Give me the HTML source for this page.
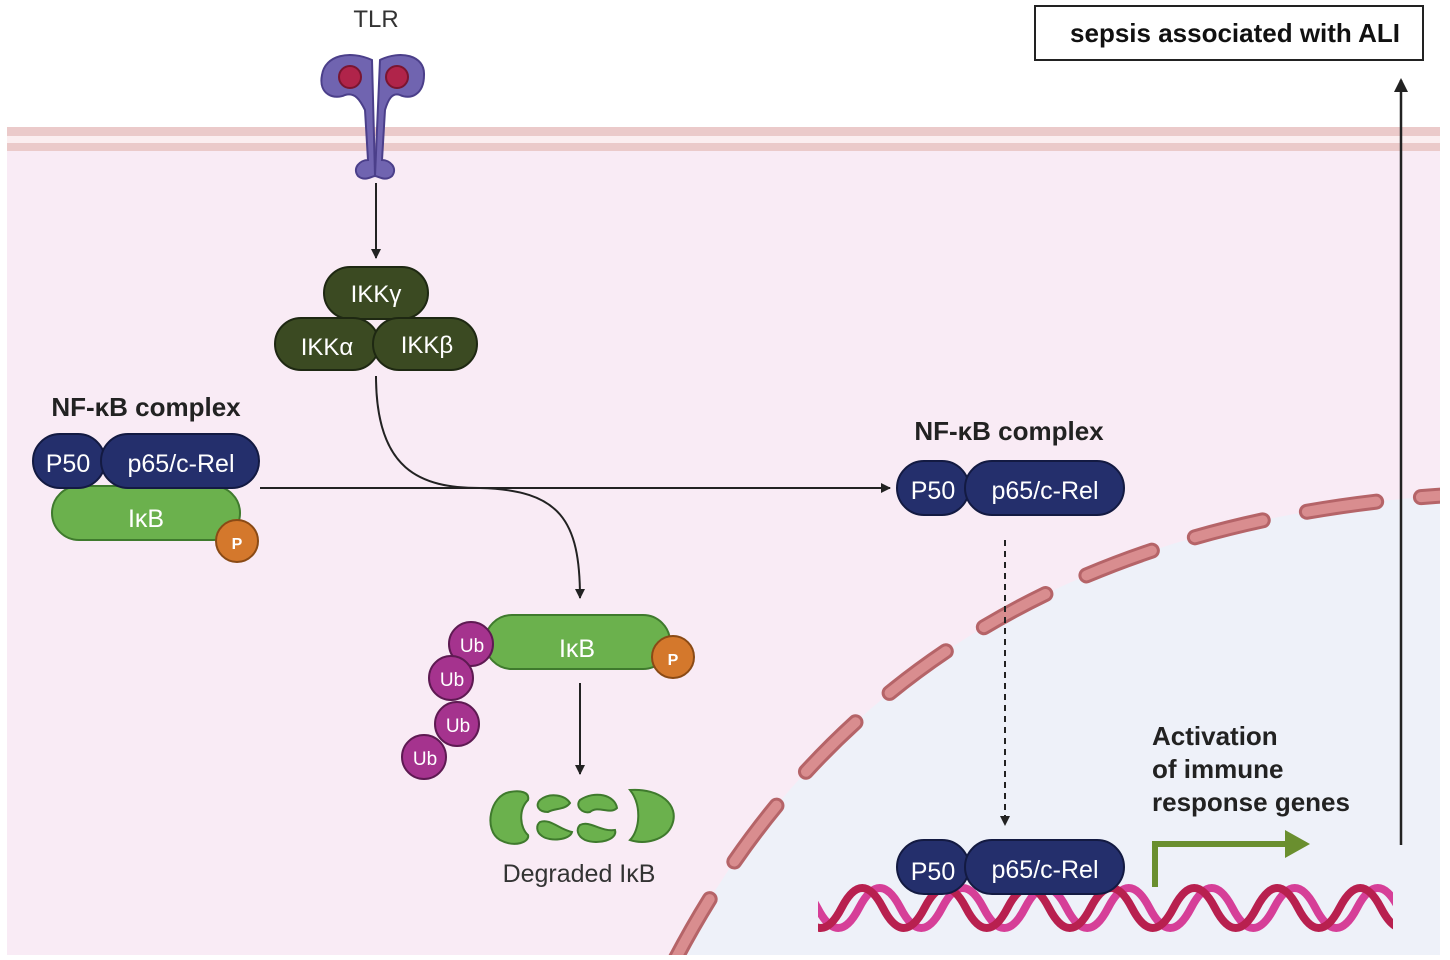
<!DOCTYPE html>
<html><head><meta charset="utf-8"><style>
html,body{margin:0;padding:0;background:#fff;}
svg{display:block;}
text{font-family:"Liberation Sans",sans-serif;}
</style></head><body>
<svg width="1450" height="960" viewBox="0 0 1450 960" xmlns="http://www.w3.org/2000/svg">
<defs>
<marker id="ah" markerWidth="10" markerHeight="10" refX="9" refY="5" orient="auto" markerUnits="userSpaceOnUse" viewBox="0 0 10 10"><path d="M0,0 L10,5 L0,10 Z" fill="#222"/></marker>
<marker id="ah2" markerWidth="14" markerHeight="14" refX="12" refY="7" orient="auto" markerUnits="userSpaceOnUse" viewBox="0 0 14 14"><path d="M0,0 L14,7 L0,14 Z" fill="#222"/></marker>
<clipPath id="dc"><rect x="818" y="860" width="575" height="90"/></clipPath>
</defs>
<rect width="1450" height="960" fill="#fff"/>
<rect x="7" y="150" width="1433" height="805" fill="#f9ebf5"/>
<rect x="7" y="136" width="1433" height="7" fill="#fbeef0"/>
<rect x="7" y="127" width="1433" height="9" fill="#ebcaca"/>
<rect x="7" y="143" width="1433" height="8" fill="#ebcaca"/>
<path d="M675 960 Q900 530 1450 495 L1450 955 L675 955 Z" fill="#eef1f9"/>
<path d="M675 960 Q900 530 1450 495" fill="none" stroke="#b56468" stroke-width="16" stroke-dasharray="70 45" stroke-linecap="round"/>
<path d="M675 960 Q900 530 1450 495" fill="none" stroke="#d98d8f" stroke-width="10" stroke-dasharray="70 45" stroke-linecap="round"/>
<rect x="0" y="955" width="1450" height="5" fill="#fff"/>
<rect x="1440" y="0" width="10" height="960" fill="#fff"/>
<text x="376" y="27" font-size="24" fill="#333" text-anchor="middle">TLR</text>
<g fill="#7064b0" stroke="#4b3f8a" stroke-width="2">
<path d="M372 60 C350 50 325 55 322 75 C318 95 335 100 345 95 C355 92 360 100 365 110 L368 160 C360 160 352 168 358 176 C365 182 372 176 375 176 Z"/>
<path d="M380 60 C400 50 425 55 424 75 C424 95 410 100 400 95 C392 92 388 100 385 110 L382 160 C390 160 398 168 392 176 C385 182 378 176 375 176 Z"/>
</g>
<circle cx="350" cy="77" r="11" fill="#b0244a" stroke="#7a1530" stroke-width="2"/>
<circle cx="397" cy="77" r="11" fill="#b0244a" stroke="#7a1530" stroke-width="2"/>
<line x1="376" y1="183" x2="376" y2="258" stroke="#222" stroke-width="2" marker-end="url(#ah)"/>
<g stroke="#1e2812" stroke-width="2" fill="#3b4a22">
<rect x="324" y="267" width="104" height="52" rx="26"/>
<rect x="275" y="318" width="104" height="52" rx="26"/>
<rect x="373" y="318" width="104" height="52" rx="26"/>
</g>
<g fill="#fff" font-size="24" text-anchor="middle">
<text x="376" y="302">IKKγ</text>
<text x="327" y="355">IKKα</text>
<text x="427" y="353">IKKβ</text>
</g>
<path d="M376 376 C376 470 420 488 480 488 C560 490 580 520 580 598" fill="none" stroke="#222" stroke-width="2" marker-end="url(#ah)"/>
<line x1="260" y1="488" x2="890" y2="488" stroke="#222" stroke-width="2" marker-end="url(#ah)"/>
<text x="146" y="416" font-size="26" font-weight="bold" fill="#222" text-anchor="middle">NF-κB complex</text>
<rect x="52" y="486" width="188" height="54" rx="27" fill="#6bb14d" stroke="#3f7a2d" stroke-width="2"/>
<text x="146" y="527" font-size="25" fill="#fff" text-anchor="middle">IκB</text>
<circle cx="237" cy="541" r="21" fill="#d4782c" stroke="#8a4a15" stroke-width="2"/>
<text x="237" y="549" font-size="16" font-weight="bold" fill="#fff" text-anchor="middle">P</text>
<rect x="33" y="434" width="72" height="54" rx="27" fill="#242f6c" stroke="#131a42" stroke-width="2"/>
<rect x="101" y="434" width="158" height="54" rx="27" fill="#242f6c" stroke="#131a42" stroke-width="2"/>
<g fill="#fff" font-size="25" text-anchor="middle"><text x="68" y="472">P50</text><text x="181" y="472">p65/c-Rel</text></g>
<text x="1009" y="440" font-size="26" font-weight="bold" fill="#222" text-anchor="middle">NF-κB complex</text>
<rect x="897" y="461" width="72" height="54" rx="27" fill="#242f6c" stroke="#131a42" stroke-width="2"/>
<rect x="965" y="461" width="159" height="54" rx="27" fill="#242f6c" stroke="#131a42" stroke-width="2"/>
<g fill="#fff" font-size="25" text-anchor="middle"><text x="933" y="499">P50</text><text x="1045" y="499">p65/c-Rel</text></g>
<line x1="1005" y1="540" x2="1005" y2="825" stroke="#222" stroke-width="2" stroke-dasharray="6 5" marker-end="url(#ah)"/>
<rect x="485" y="615" width="185" height="54" rx="27" fill="#6bb14d" stroke="#3f7a2d" stroke-width="2"/>
<text x="577" y="657" font-size="25" fill="#fff" text-anchor="middle">IκB</text>
<circle cx="673" cy="657" r="21" fill="#d4782c" stroke="#8a4a15" stroke-width="2"/>
<text x="673" y="665" font-size="16" font-weight="bold" fill="#fff" text-anchor="middle">P</text>
<g fill="#a5338e" stroke="#5e1a52" stroke-width="2">
<circle cx="471" cy="644" r="22"/><circle cx="451" cy="678" r="22"/><circle cx="457" cy="724" r="22"/><circle cx="424" cy="757" r="22"/>
</g>
<g fill="#fff" font-size="19" text-anchor="middle">
<text x="472" y="652">Ub</text><text x="452" y="686">Ub</text><text x="458" y="732">Ub</text><text x="425" y="765">Ub</text>
</g>
<line x1="580" y1="683" x2="580" y2="774" stroke="#222" stroke-width="2" marker-end="url(#ah)"/>
<g fill="#6bb14d" stroke="#3f7a2d" stroke-width="2">
<path d="M510 792 C490 795 483 830 500 840 C515 848 530 842 528 835 C520 828 518 810 528 800 C530 792 520 790 510 792 Z"/>
<path d="M540 800 C550 792 565 795 570 803 C565 810 555 808 548 812 C538 812 535 805 540 800 Z"/>
<path d="M540 822 C550 818 560 830 572 832 C570 840 550 842 542 836 C536 832 536 825 540 822 Z"/>
<path d="M580 800 C595 790 615 795 617 808 C610 815 598 805 590 812 C582 814 575 806 580 800 Z"/>
<path d="M580 825 C590 820 600 832 615 830 C618 840 598 845 585 840 C577 836 576 829 580 825 Z"/>
<path d="M630 790 C660 788 680 805 672 825 C666 840 645 845 630 840 C640 830 642 805 630 790 Z"/>
</g>
<text x="579" y="882" font-size="25" fill="#333" text-anchor="middle">Degraded IκB</text>
<g clip-path="url(#dc)">
<path d="M776 908 Q796.75 868 817.5 908 T859 908 T900.5 908 T942 908 T983.5 908 T1025 908 T1066.5 908 T1108 908 T1149.5 908 T1191 908 T1232.5 908 T1274 908 T1315.5 908 T1357 908 T1398.5 908 T1440 908" fill="none" stroke="#d63f98" stroke-width="8"/>
<path d="M800 908 Q820.75 948 841.5 908 T883 908 T924.5 908 T966 908 T1007.5 908 T1049 908 T1090.5 908 T1132 908 T1173.5 908 T1215 908 T1256.5 908 T1298 908 T1339.5 908 T1381 908 T1422.5 908" fill="none" stroke="#b8204f" stroke-width="8"/>
</g>
<rect x="897" y="840" width="72" height="54" rx="27" fill="#242f6c" stroke="#131a42" stroke-width="2"/>
<rect x="965" y="840" width="159" height="54" rx="27" fill="#242f6c" stroke="#131a42" stroke-width="2"/>
<g fill="#fff" font-size="25" text-anchor="middle"><text x="933" y="880">P50</text><text x="1045" y="878">p65/c-Rel</text></g>
<path d="M1155 887 L1155 844 L1290 844" fill="none" stroke="#6a8f2f" stroke-width="6"/>
<path d="M1285 830 L1310 844 L1285 858 Z" fill="#6a8f2f"/>
<g font-size="26" font-weight="bold" fill="#222">
<text x="1152" y="745">Activation</text><text x="1152" y="778">of immune</text><text x="1152" y="811">response genes</text>
</g>
<line x1="1401" y1="845" x2="1401" y2="80" stroke="#222" stroke-width="2.5" marker-end="url(#ah2)"/>
<rect x="1035" y="6" width="388" height="54" fill="#fff" stroke="#222" stroke-width="2"/>
<text x="1235" y="42" font-size="26" font-weight="bold" fill="#111" text-anchor="middle">sepsis associated with ALI</text>
</svg>
</body></html>
